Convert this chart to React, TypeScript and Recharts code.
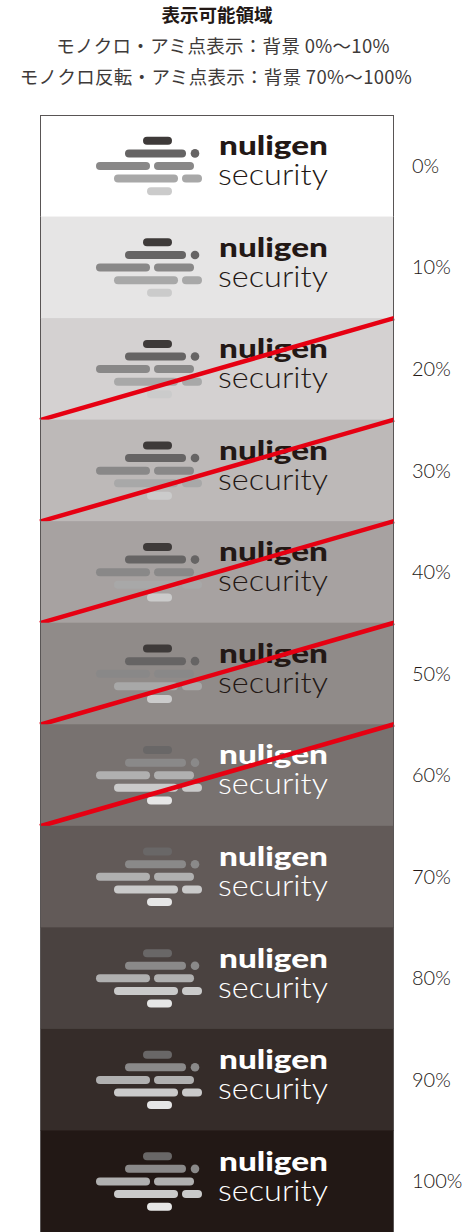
import { BarChart, Bar, XAxis, YAxis } from 'recharts';

// background tint of each band, top to bottom
const bandLabels = ['0%', '10%', '20%', '30%', '40%', '50%', '60%', '70%', '80%', '90%', '100%'];
const bandFills = [
  '#ffffff', '#e6e5e5', '#d4d1d1', '#bdb9b8', '#a7a2a1', '#908b89',
  '#787270', '#625a58', '#4a4240', '#352c29', '#221815',
];
// bands where the logo must not be placed
const crossedOut = [false, false, true, true, true, true, true, false, false, false, false];
// bands that use the reversed (white) logo
const reversedLogo = [false, false, false, false, false, false, true, true, true, true, true];

const titleText = '表示可能領域';
const noteLines = ['モノクロ・アミ点表示：背景 0%～10%', 'モノクロ反転・アミ点表示：背景 70%～100%'];
const logoWords = ['nuligen', 'security'];

const data = bandLabels.map((label, i) => ({
  label,
  full: 1,
  fill: bandFills[i],
  crossed: crossedOut[i],
  reversed: reversedLogo[i],
  first: i === 0,
}));

// logo mark: pills as [left, right, row] offsets from the band's left edge
const PILLS = [
  [103, 132, 0],
  [85, 146, 1],
  [56, 110, 2],
  [114, 154, 2],
  [74, 138, 3],
  [142, 162, 3],
  [107, 132, 4],
];
const TONES = ['#3e3a39', '#666464', '#898888', '#a8a8a8', '#cbcbcb'];
const TONES_REV = ['#696767', '#8a8989', '#b0b0b0', '#cacaca', '#e6e6e6'];

function BandShape(props: any) {
  const { x, y, width, height, payload } = props;
  const cy = y + height / 2;
  const tones = payload.reversed ? TONES_REV : TONES;
  const ink = payload.reversed ? '#ffffff' : '#231815';
  const rowY = (r: number) => cy + (r - 2) * 12.6;
  return (
    <g>
      <rect x={x} y={y} width={width} height={height + 0.5} fill={payload.fill} />
      {PILLS.map(([a, b, r], k) => (
        <rect key={k} x={x + a} y={rowY(r) - 4} width={b - a} height={8} rx={4} fill={tones[r]} />
      ))}
      <circle cx={x + 155} cy={rowY(1)} r={4.3} fill={tones[1]} />
      <text fontFamily="Lato" fill={ink}>
        <tspan
          x={x + 179}
          y={cy - 10.8}
          fontWeight={900}
          fontSize={27}
          textLength={109}
          lengthAdjust="spacingAndGlyphs"
        >
          {logoWords[0]}
        </tspan>
        <tspan
          x={x + 178}
          y={cy + 19.2}
          fontWeight={300}
          fontSize={29}
          textLength={110}
          lengthAdjust="spacingAndGlyphs"
        >
          {logoWords[1]}
        </tspan>
      </text>
      {payload.crossed && (
        <line x1={x} y1={y + height} x2={x + width} y2={y} stroke="#e60012" strokeWidth={4.5} />
      )}
      <line x1={x + 0.5} y1={y} x2={x + 0.5} y2={y + height} stroke="#595555" strokeWidth={1} />
      <line x1={x + width - 0.5} y1={y} x2={x + width - 0.5} y2={y + height} stroke="#595555" strokeWidth={1} />
      {payload.first && <line x1={x} y1={y + 0.5} x2={x + width} y2={y + 0.5} stroke="#595555" strokeWidth={1} />}
    </g>
  );
}

const titleStyle = {
  position: 'absolute' as const,
  left: 0,
  width: 434,
  textAlign: 'center' as const,
  fontFamily: '"Noto Sans CJK JP", sans-serif',
  fontSize: 18.5,
  lineHeight: '20px',
  color: '#3e3a39',
  whiteSpace: 'nowrap' as const,
};

export default function App() {
  return (
    <div style={{ position: 'absolute', left: 0, top: 0, width: 471, height: 1232, background: '#fff', overflow: 'hidden' }}>
      <div style={{ ...titleStyle, top: 4, fontWeight: 700, color: '#231815' }}>{titleText}</div>
      <div style={{ ...titleStyle, top: 35, width: 446, letterSpacing: 0.3 }}>{noteLines[0]}</div>
      <div style={{ ...titleStyle, top: 66, width: 432, letterSpacing: 0.3 }}>{noteLines[1]}</div>
      <div style={{ position: 'absolute', left: 0, top: 0 }}>
        <BarChart
          width={471}
          height={1232}
          data={data}
          layout="vertical"
          barCategoryGap={0}
          margin={{ top: 115, right: 0, left: 40, bottom: 0 }}
        >
          <XAxis type="number" domain={[0, 1]} hide />
          <YAxis
            type="category"
            dataKey="label"
            orientation="right"
            width={77}
            axisLine={false}
            tickLine={false}
            tickSize={0}
            tickMargin={18}
            tick={{ fill: '#231815', fontSize: 20, fontFamily: 'Lato', fontWeight: 300 }}
          />
          <Bar dataKey="full" shape={BandShape} isAnimationActive={false} />
        </BarChart>
      </div>
    </div>
  );
}
